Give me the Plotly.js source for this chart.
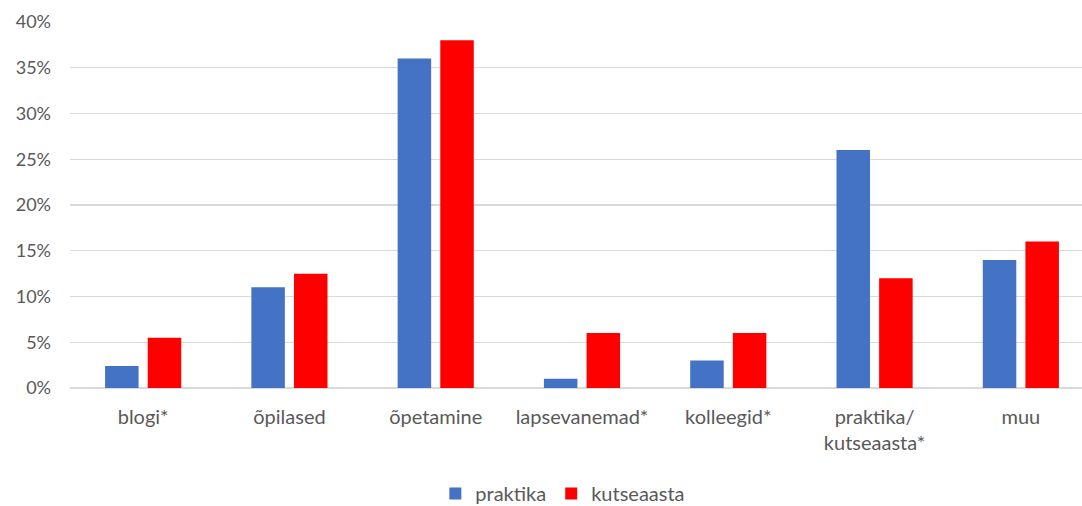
<!DOCTYPE html>
<html><head><meta charset="utf-8">
<script src="https://cdn.plot.ly/plotly-3.0.1.min.js"></script>
<style>html,body{margin:0;padding:0;background:#fff;}#chart{width:1082px;height:506px;}</style>
</head><body><div id="chart"></div>
<script>
const categories = ["blogi*", "õpilased", "õpetamine", "lapsevanemad*", "kolleegid*", "praktika/<br>kutseaasta*", "muu"];
const praktika = [0.024, 0.11, 0.36, 0.01, 0.03, 0.26, 0.14];
const kutseaasta = [0.055, 0.125, 0.38, 0.06, 0.06, 0.12, 0.16];
const tickVals = [0, 0.05, 0.10, 0.15, 0.20, 0.25, 0.30, 0.35, 0.40];
const tickText = ["0%", "5%", "10%", "15%", "20%", "25%", "30%", "35%", "40%"];

const data = [
  {type: 'bar', name: 'praktika', x: categories, y: praktika, marker: {color: '#4472c4'}},
  {type: 'bar', name: 'kutseaasta', x: categories, y: kutseaasta, marker: {color: '#ff0000'}}
];
const layout = {
  width: 1082, height: 506,
  margin: {l: 70, r: 0, t: 22, b: 118, autoexpand: false},
  paper_bgcolor: '#fff', plot_bgcolor: '#fff',
  font: {family: 'Lato, "Open Sans", sans-serif', size: 18, color: '#595959'},
  barmode: 'group', bargap: 0.417, bargroupgap: 0.214,
  xaxis: {automargin: false, range: [-0.5, 6.418], tickfont: {size: 20, color: '#595959'}, showline: false, ticks: '', showgrid: false, zeroline: false, ticklabelstandoff: 15},
  yaxis: {automargin: false, range: [0, 0.4], tickvals: tickVals, ticktext: tickText, showgrid: true, gridcolor: '#d9d9d9', gridwidth: 1.2,
          zeroline: true, zerolinecolor: '#d9d9d9', zerolinewidth: 1.2, tickfont: {size: 18, color: '#595959'}, ticklabelstandoff: 18},
  showlegend: true,
  legend: {orientation: 'h', x: 0.487, xanchor: 'center', y: -0.235, yanchor: 'top', font: {size: 20, color: '#595959'},
           itemwidth: 30, traceorder: 'normal'}
};
Plotly.newPlot('chart', data, layout, {displayModeBar: false, staticPlot: true});
</script></body></html>
